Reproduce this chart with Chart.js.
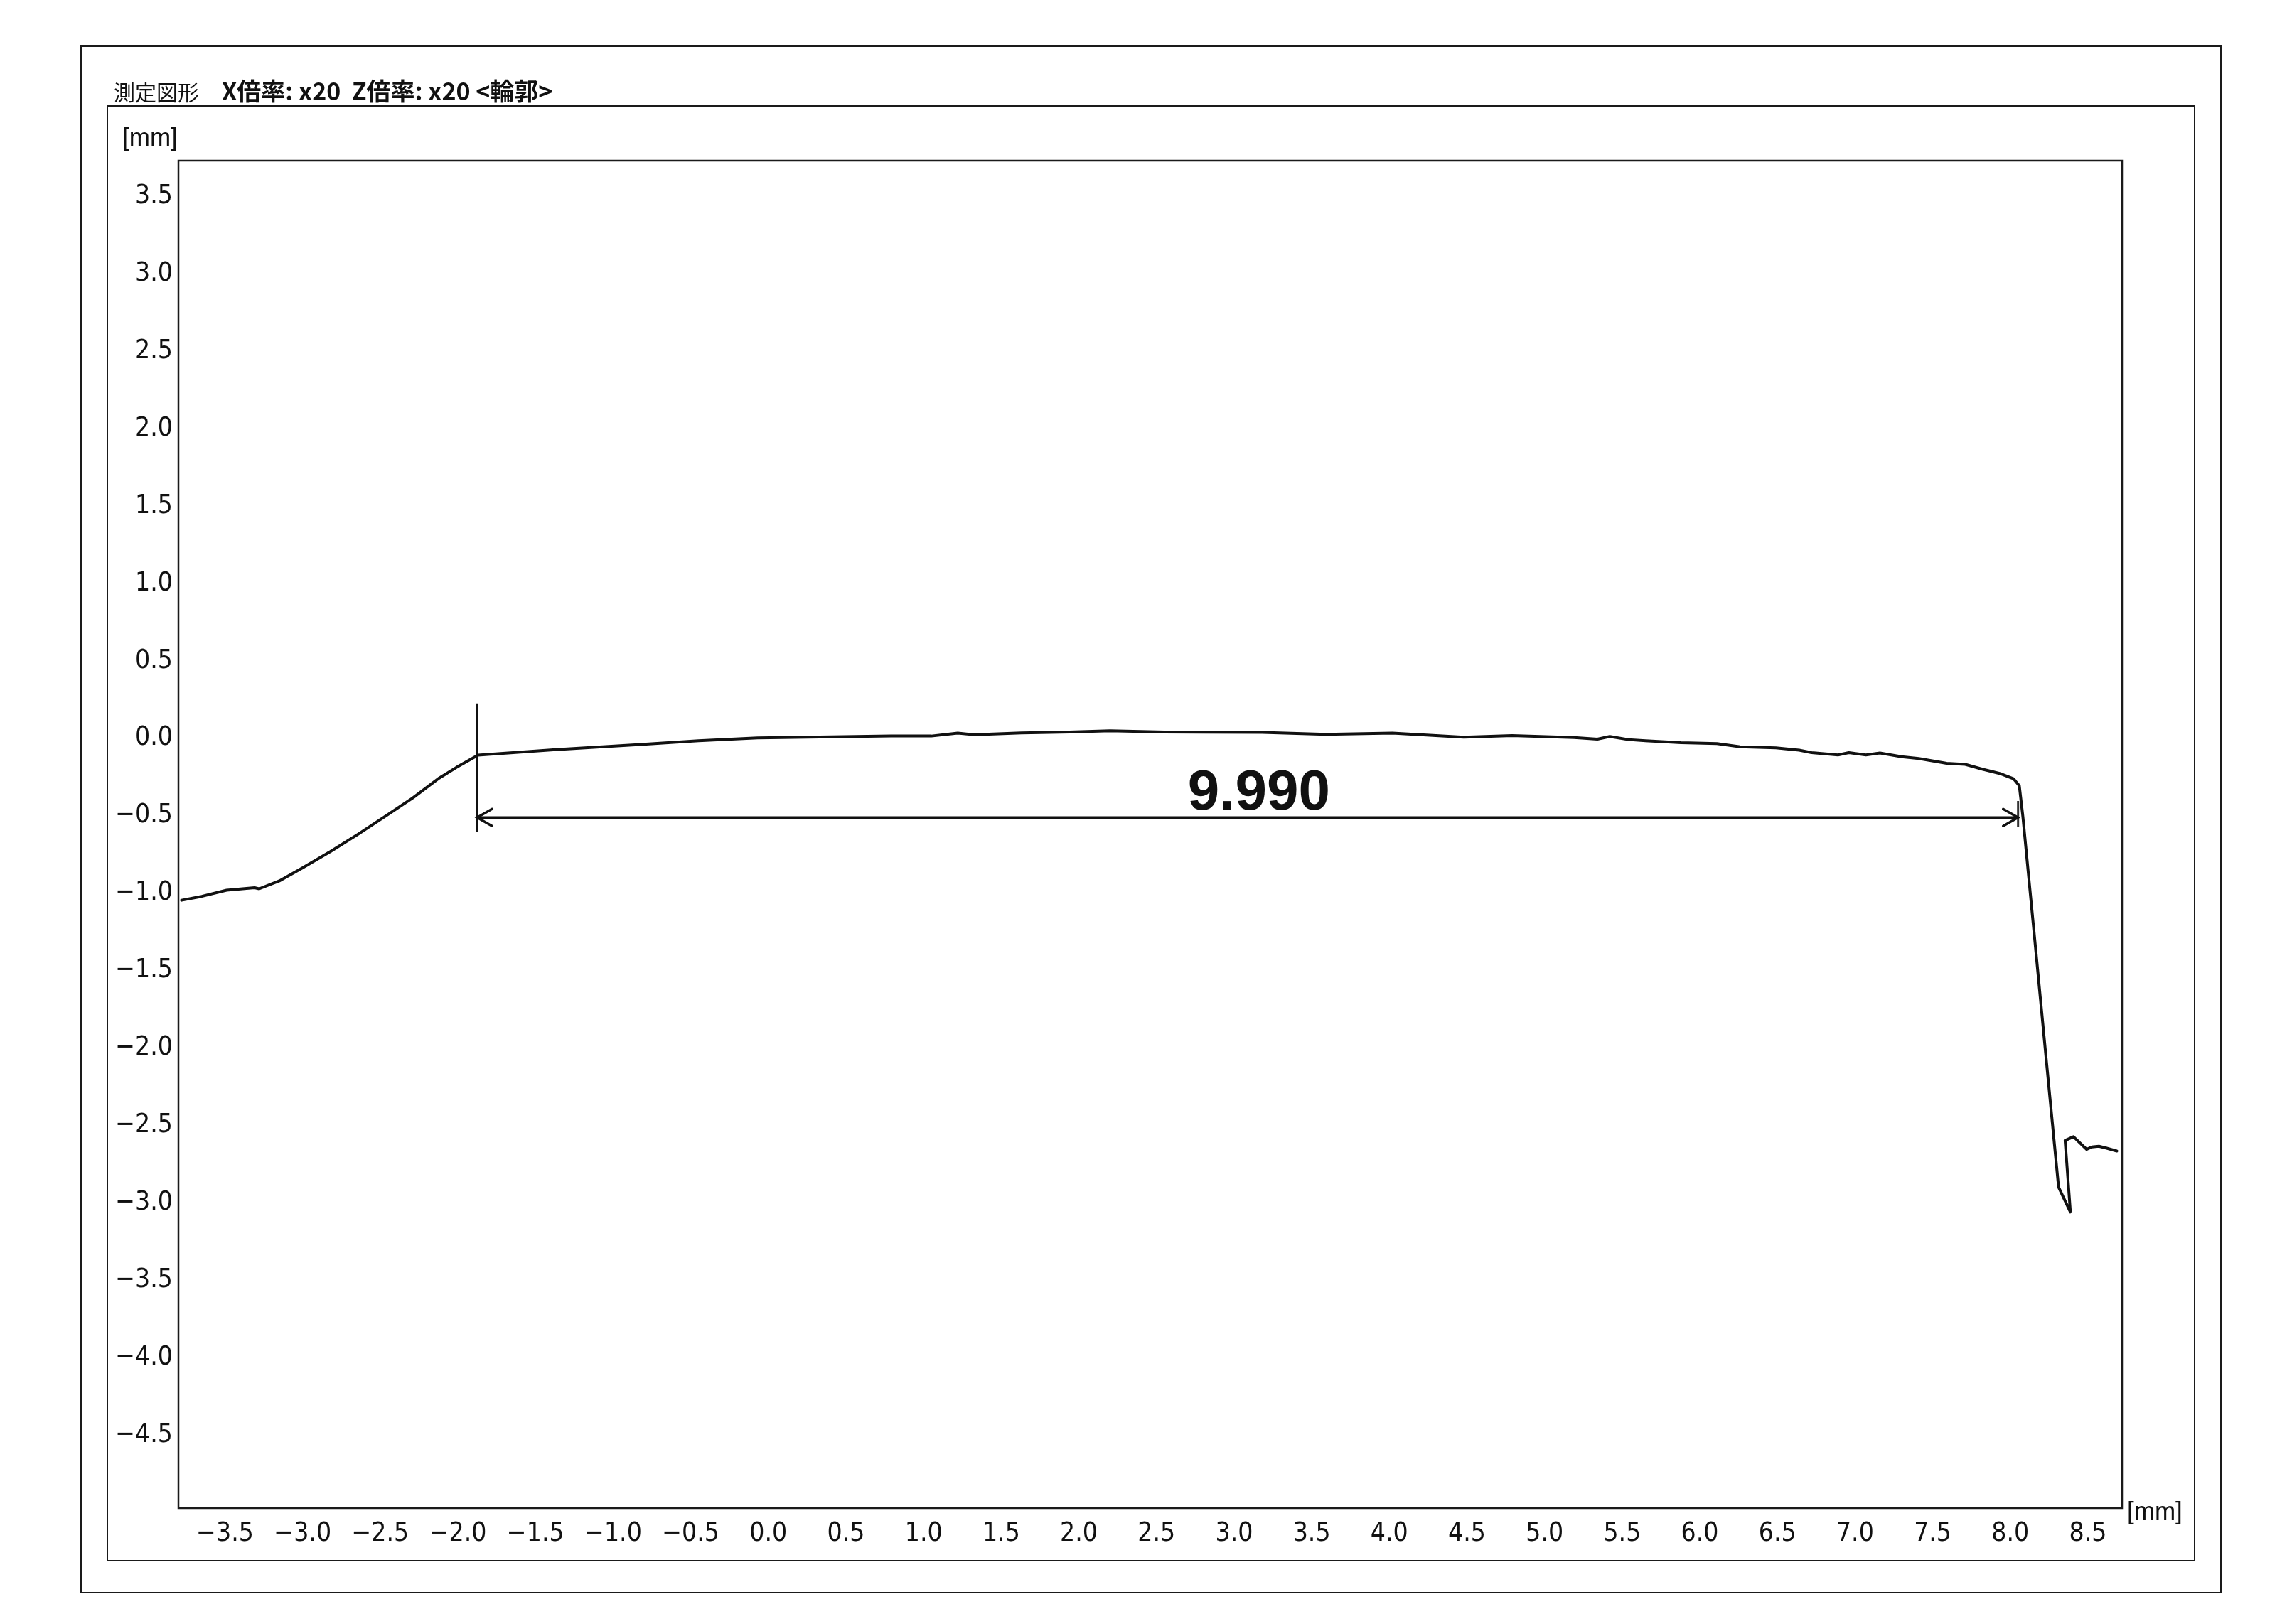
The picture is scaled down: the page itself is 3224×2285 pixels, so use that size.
<!DOCTYPE html>
<html><head><meta charset="utf-8">
<script src="https://cdn.jsdelivr.net/npm/chart.js@4.4.1/dist/chart.umd.min.js"></script>
<style>
html,body{margin:0;padding:0;background:#fff;width:3224px;height:2285px;overflow:hidden}
#wrap{position:relative;width:3224px;height:2285px;background:#fff}
canvas{position:absolute;left:0;top:0}
.frame{position:absolute;border:2.5px solid #1a1a1a;box-sizing:border-box}
.txt{position:absolute;color:#111;white-space:nowrap;line-height:1}
</style></head><body>
<div id="wrap">
<div class="frame" style="left:113px;top:64px;width:3012px;height:2178px"></div>
<div class="frame" style="left:150px;top:148px;width:2938px;height:2049px"></div>
<canvas id="c" width="3224" height="2285"></canvas>
<div class="txt" style="left:160px;top:110px;font-family:'Noto Sans CJK JP',sans-serif;"><span style="font-size:30px">測定図形</span><span style="display:inline-block;width:32px"></span><span style="font-weight:bold;font-size:34px">X倍率: x20&nbsp; Z倍率: x20 &lt;輪郭&gt;</span></div>
<div class="txt" style="left:172px;top:175px;font-size:35px;font-family:'Liberation Sans',Arial,sans-serif">[mm]</div>
<div class="txt" style="left:2992px;top:2108px;font-size:35px;font-family:'Liberation Sans',Arial,sans-serif">[mm]</div>
</div>
<script>
// ---- data ----
const profileX = [-3.78,-3.65,-3.49,-3.31,-3.28,-3.15,-3.00,-2.82,-2.64,-2.47,-2.29,-2.12,-2.01,-1.87,-1.37,-0.84,-0.45,-0.07,0.41,0.79,1.05,1.22,1.33,1.63,1.94,2.20,2.55,2.80,3.18,3.59,4.02,4.48,4.79,5.19,5.34,5.42,5.54,5.65,5.88,6.11,6.26,6.49,6.64,6.72,6.89,6.96,7.07,7.16,7.30,7.41,7.59,7.71,7.82,7.94,8.02,8.058,8.081,8.147,8.235,8.311,8.387,8.353,8.407,8.491,8.525,8.571,8.617,8.686];
const profileY = [-1.045,-1.02,-0.98,-0.964,-0.971,-0.92,-0.836,-0.73,-0.617,-0.505,-0.384,-0.256,-0.188,-0.108,-0.073,-0.041,-0.015,0.003,0.010,0.015,0.015,0.034,0.023,0.035,0.041,0.049,0.041,0.040,0.038,0.026,0.034,0.008,0.018,0.005,-0.005,0.012,-0.008,-0.015,-0.028,-0.034,-0.054,-0.061,-0.076,-0.092,-0.107,-0.092,-0.107,-0.095,-0.119,-0.13,-0.161,-0.168,-0.199,-0.229,-0.26,-0.306,-0.505,-1.19,-2.11,-2.898,-3.058,-2.596,-2.572,-2.653,-2.638,-2.633,-2.645,-2.664];
const markerX = [-1.876, 8.05];
const markerTop = [0.225, -0.404];
const markerBottom = [-0.605, -0.573];
const dimY = -0.511;
const dimLabel = '9.990';
const dimTextX = 3.16;
const dimTextY = -0.46;
const xTickValues = [-3.5,-3.0,-2.5,-2.0,-1.5,-1.0,-0.5,0.0,0.5,1.0,1.5,2.0,2.5,3.0,3.5,4.0,4.5,5.0,5.5,6.0,6.5,7.0,7.5,8.0,8.5];
const xTickLabels = ['−3.5','−3.0','−2.5','−2.0','−1.5','−1.0','−0.5','0.0','0.5','1.0','1.5','2.0','2.5','3.0','3.5','4.0','4.5','5.0','5.5','6.0','6.5','7.0','7.5','8.0','8.5'];
const yTickValues = [3.5,3.0,2.5,2.0,1.5,1.0,0.5,0.0,-0.5,-1.0,-1.5,-2.0,-2.5,-3.0,-3.5,-4.0,-4.5];
const yTickLabels = ['3.5','3.0','2.5','2.0','1.5','1.0','0.5','0.0','−0.5','−1.0','−1.5','−2.0','−2.5','−3.0','−3.5','−4.0','−4.5'];
const xRange = [-3.8, 8.72];
const yRange = [-4.97, 3.73];

const tickFont = {family:"'Liberation Sans Narrow','DejaVu Sans Condensed','Arial Narrow',sans-serif", size:37};
const ink = '#111';

const annot = {
  id:'annot',
  afterDatasetsDraw(chart){
    const {ctx, chartArea:a, scales:{x,y}} = chart;
    ctx.save();
    ctx.strokeStyle='#1a1a1a'; ctx.lineWidth=2.5;
    ctx.strokeRect(a.left,a.top,a.right-a.left,a.bottom-a.top);
    const yy = y.getPixelForValue(dimY);
    const xl = x.getPixelForValue(markerX[0]), xr = x.getPixelForValue(markerX[1]);
    ctx.lineWidth=3.5; ctx.strokeStyle=ink; ctx.lineCap='round';
    ctx.beginPath();
    ctx.moveTo(xl+21,yy-12); ctx.lineTo(xl,yy); ctx.lineTo(xl+21,yy+12);
    ctx.moveTo(xr-21,yy-12); ctx.lineTo(xr,yy); ctx.lineTo(xr-21,yy+12);
    ctx.stroke();
    ctx.font="bold 80px 'Liberation Sans', Arial, sans-serif";
    ctx.fillStyle=ink; ctx.textAlign='center'; ctx.textBaseline='alphabetic';
    ctx.fillText(dimLabel, x.getPixelForValue(dimTextX), y.getPixelForValue(dimTextY));
    ctx.restore();
  }
};

const profile = profileX.map((v,i)=>({x:v,y:profileY[i]}));
const ds = [
  {data:profile, showLine:true, borderColor:ink, borderWidth:4, pointRadius:0, tension:0, borderJoinStyle:'round', borderCapStyle:'round'},
  {data:[{x:markerX[0],y:markerTop[0]},{x:markerX[0],y:markerBottom[0]}], showLine:true, borderColor:ink, borderWidth:3.5, pointRadius:0},
  {data:[{x:markerX[1],y:markerTop[1]},{x:markerX[1],y:markerBottom[1]}], showLine:true, borderColor:'#333', borderWidth:3, pointRadius:0},
  {data:[{x:markerX[0],y:dimY},{x:markerX[1],y:dimY}], showLine:true, borderColor:ink, borderWidth:3.5, pointRadius:0}
];

new Chart(document.getElementById('c'), {
  type:'scatter',
  data:{datasets:ds},
  options:{
    responsive:false, animation:false, devicePixelRatio:1,
    layout:{padding:{left:0, top:226, right:239, bottom:0}},
    plugins:{legend:{display:false}, tooltip:{enabled:false}},
    scales:{
      x:{type:'linear', min:xRange[0], max:xRange[1],
        grid:{display:false, drawTicks:false, tickLength:0}, border:{display:false},
        ticks:{font:tickFont, color:ink, padding:14, maxRotation:0, autoSkip:false,
          callback:(v,i)=>xTickLabels[i]},
        afterBuildTicks:s=>{s.ticks = xTickValues.map(v=>({value:v}));},
        afterFit:s=>{s.height = 163;}
      },
      y:{type:'linear', min:yRange[0], max:yRange[1],
        grid:{display:false, drawTicks:false, tickLength:0}, border:{display:false},
        ticks:{font:tickFont, color:ink, padding:8, autoSkip:false,
          callback:(v,i)=>yTickLabels[i]},
        afterBuildTicks:s=>{s.ticks = yTickValues.map(v=>({value:v}));},
        afterFit:s=>{s.width = 251;}
      }
    }
  },
  plugins:[annot]
});
</script>
</body></html>
